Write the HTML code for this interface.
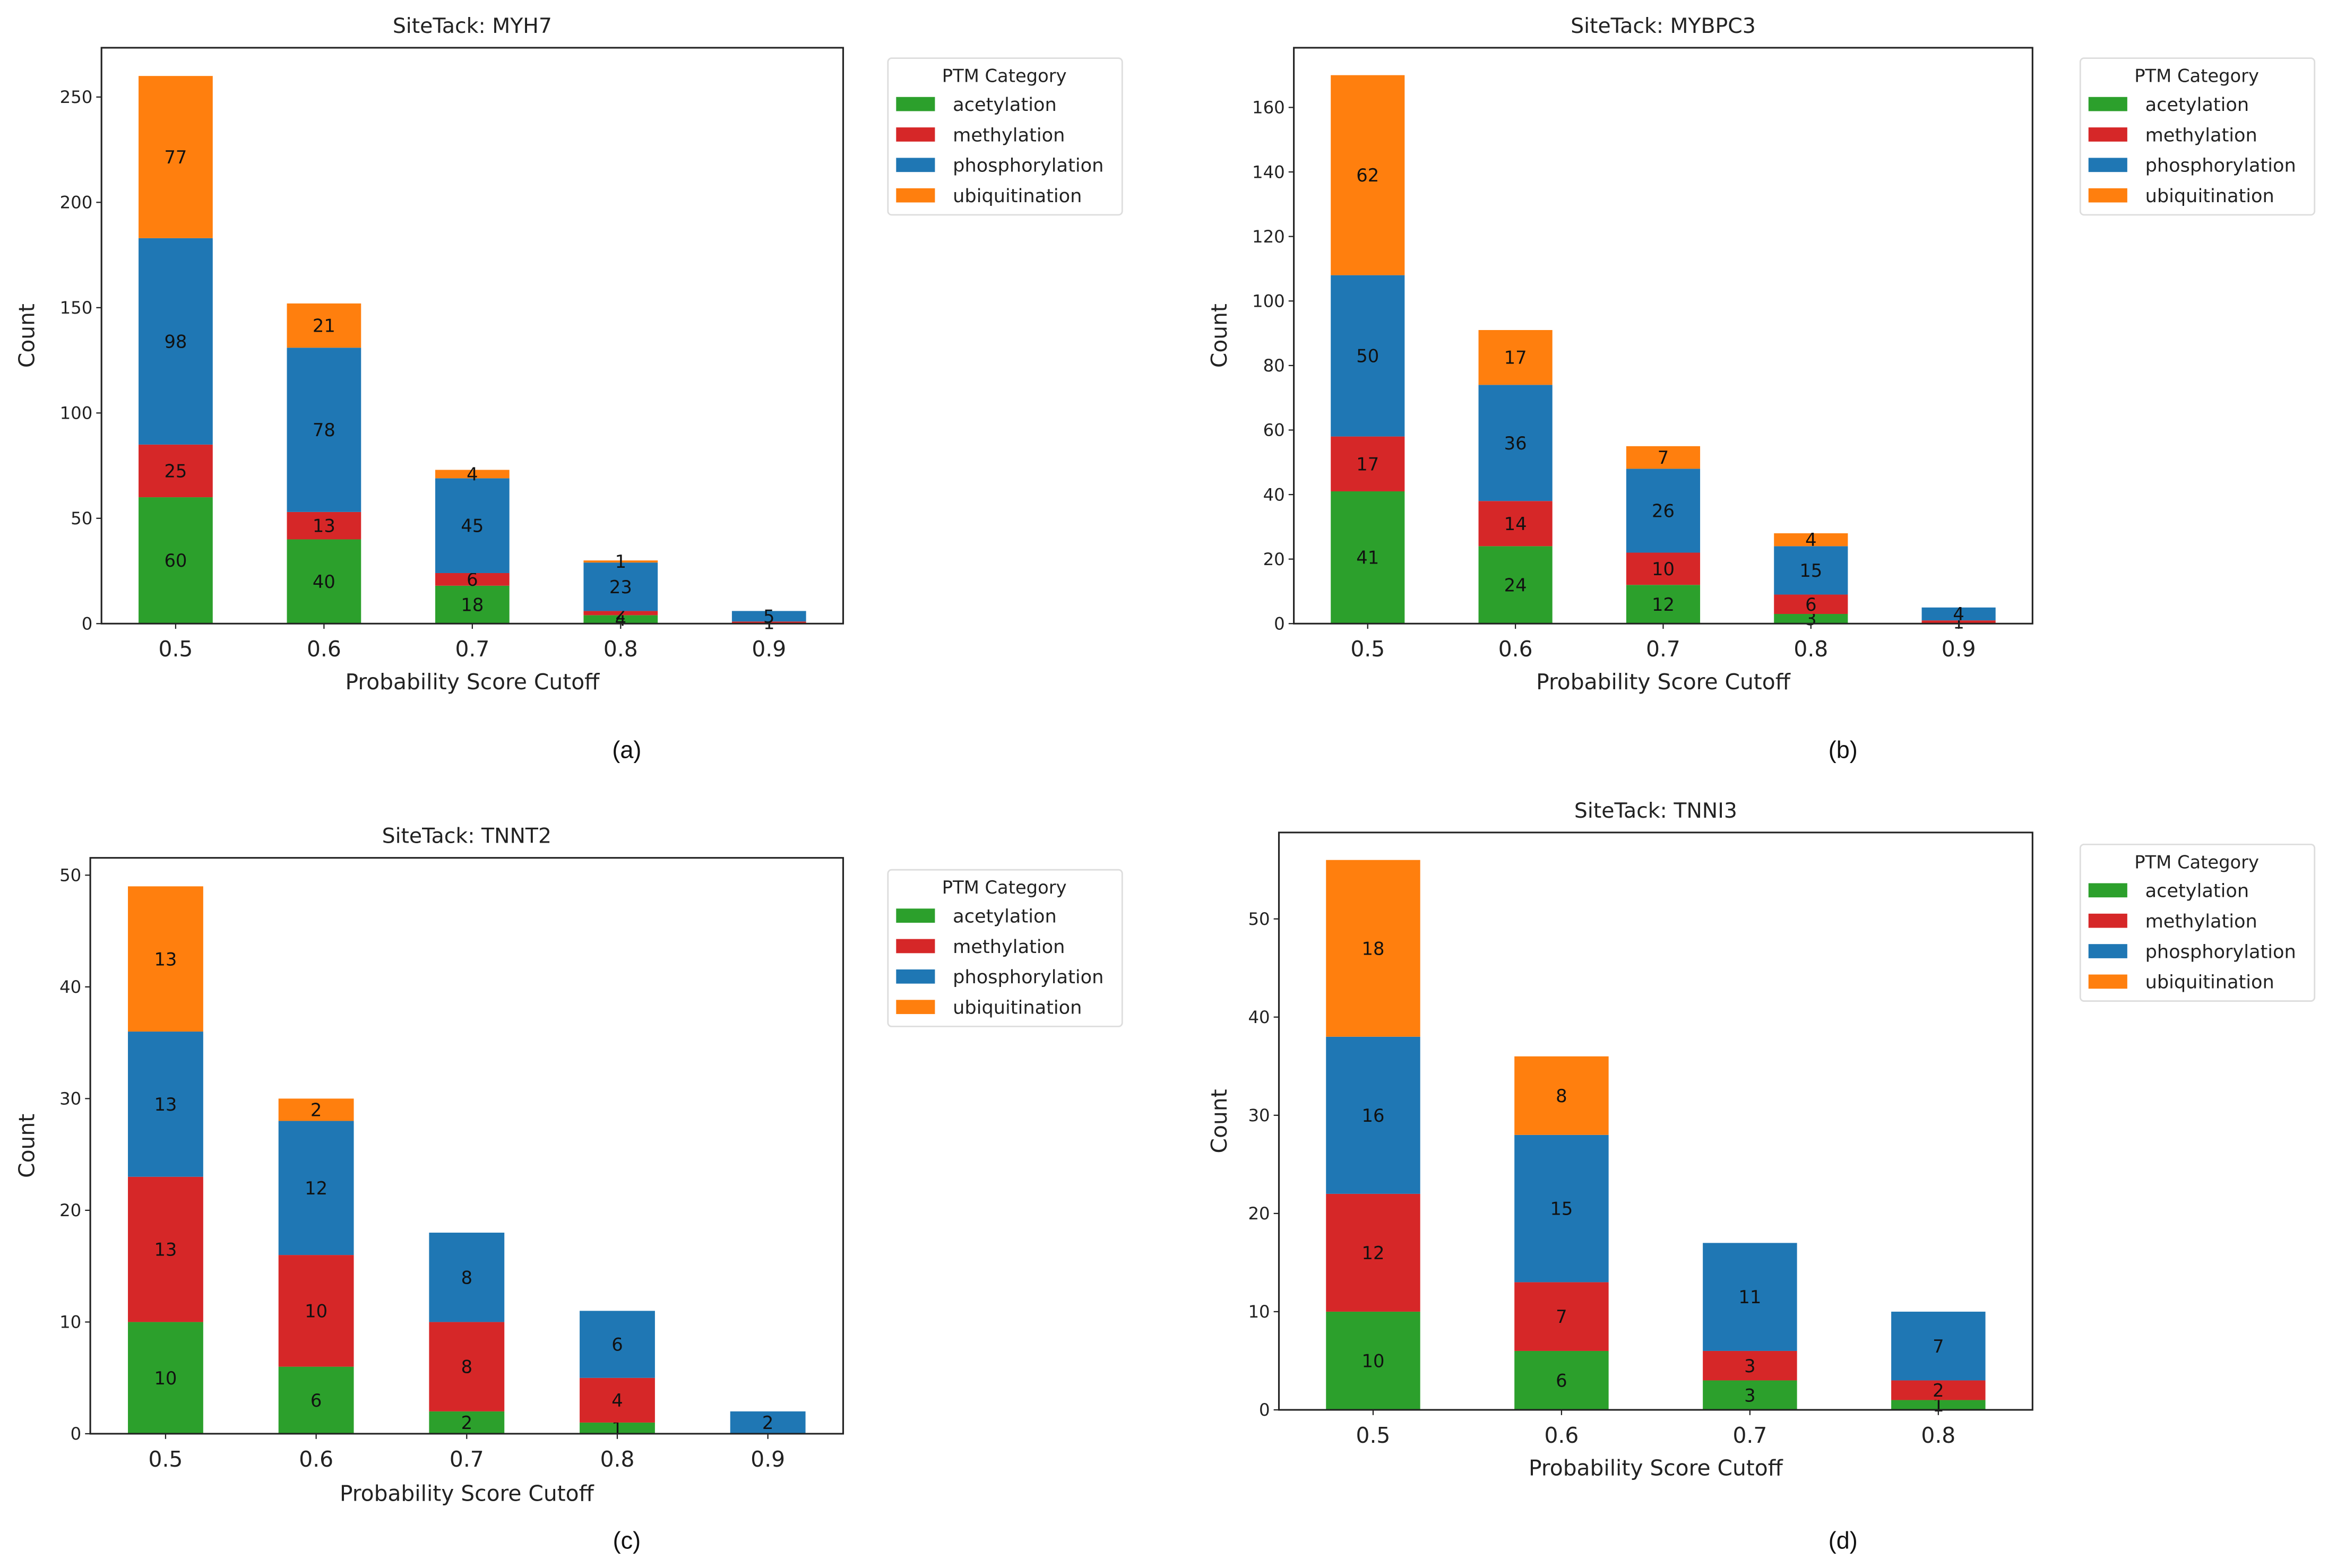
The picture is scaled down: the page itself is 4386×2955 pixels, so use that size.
<!DOCTYPE html>
<html><head><meta charset="utf-8"><style>
html,body{margin:0;padding:0;background:#fff;}
svg{display:block;font-family:"DejaVu Sans","Liberation Sans",sans-serif;}
</style></head><body>
<svg id="fig" width="4386" height="2955" viewBox="0 0 1560 1051" preserveAspectRatio="none" xmlns="http://www.w3.org/2000/svg"></svg>
<script>
const seriesNames = ['acetylation','methylation','phosphorylation','ubiquitination'];
const seriesColors = ['#2ca02c','#d62728','#1f77b4','#ff7f0e'];

const catsA = ['0.5','0.6','0.7','0.8','0.9'];
const acetA = [60,40,18,4,0];
const methA = [25,13,6,2,1];
const phosA = [98,78,45,23,5];
const ubiqA = [77,21,4,1,0];
const ticksA = [0,50,100,150,200,250];

const catsB = ['0.5','0.6','0.7','0.8','0.9'];
const acetB = [41,24,12,3,0];
const methB = [17,14,10,6,1];
const phosB = [50,36,26,15,4];
const ubiqB = [62,17,7,4,0];
const ticksB = [0,20,40,60,80,100,120,140,160];

const catsC = ['0.5','0.6','0.7','0.8','0.9'];
const acetC = [10,6,2,1,0];
const methC = [13,10,8,4,0];
const phosC = [13,12,8,6,2];
const ubiqC = [13,2,0,0,0];
const ticksC = [0,10,20,30,40,50];

const catsD = ['0.5','0.6','0.7','0.8'];
const acetD = [10,6,3,1];
const methD = [12,7,3,2];
const phosD = [16,15,11,7];
const ubiqD = [18,8,0,0];
const ticksD = [0,10,20,30,40,50];

const NS='http://www.w3.org/2000/svg';
const svg=document.getElementById('fig');
function mk(tag,attrs,parent,text){const e=document.createElementNS(NS,tag);for(const k in attrs)e.setAttribute(k,attrs[k]);if(text!==undefined)e.textContent=text;(parent||svg).appendChild(e);return e;}

function panel(cfg){
  const g=mk('g',{});
  
  
  const L=cfg.left,R=cfg.right,T=cfg.top,B=cfg.bottom;
  const n=cfg.cats.length;
  const step=(R-L)/n;
  const xc=i=>L+step*(i+0.5);
  const y=v=>B-(v/cfg.ymax)*(B-T);
  const bw=step*0.5;
  const series=[cfg.acet,cfg.meth,cfg.phos,cfg.ubiq];
  for(let i=0;i<n;i++){
    let base=0;
    for(let s=0;s<4;s++){
      const v=series[s][i];
      if(v>0){
        const r=mk('rect',{x:xc(i)-bw/2,y:y(base+v),width:bw,height:y(base)-y(base+v),fill:seriesColors[s]},g);
        
        
        const t=mk('text',{x:xc(i),y:(y(base)+y(base+v))/2+4.3,'font-size':12,'text-anchor':'middle',fill:'#111'},g,String(v));
        
        
      }
      base+=v;
    }
  }
  const fr=mk('rect',{x:L,y:T,width:R-L,height:B-T,fill:'none',stroke:'#222','stroke-width':1.1},g);
  
  
  cfg.ticks.forEach(v=>{
    mk('line',{x1:L-3.5,x2:L,y1:y(v),y2:y(v),stroke:'#222','stroke-width':0.8},g);
    const t=mk('text',{x:L-6,y:y(v)+4,'font-size':11.5,'text-anchor':'end',fill:'#222'},g,String(v));
    
    
  });
  cfg.cats.forEach((c,i)=>{
    mk('line',{x1:xc(i),x2:xc(i),y1:B,y2:B+3.5,stroke:'#222','stroke-width':0.8},g);
    const t=mk('text',{x:xc(i),y:B+22,'font-size':14.5,'text-anchor':'middle',fill:'#222'},g,c);
    
    
  });
  const ti=mk('text',{x:(L+R)/2,y:T-10,'font-size':14,'text-anchor':'middle',fill:'#222'},g,cfg.title);
  
  
  const xl=mk('text',{x:(L+R)/2,y:cfg.xlabelY,'font-size':14.5,'text-anchor':'middle',fill:'#222'},g,'Probability Score Cutoff');
  
  
  const ym=(T+B)/2;
  const yl=mk('text',{x:cfg.ylabelX,y:ym,'font-size':14.5,'text-anchor':'middle',fill:'#222',transform:'rotate(-90 '+cfg.ylabelX+' '+ym+')'},g,'Count');
  
  
  const lg=mk('g',{},g);
  
  
  const lx=cfg.legX,ly=cfg.legY;
  mk('rect',{x:lx,y:ly,width:157,height:105,rx:2.5,fill:'#fff',stroke:'#ddd','stroke-width':1},lg);
  mk('text',{x:lx+78,y:ly+16,'font-size':12,'text-anchor':'middle',fill:'#222'},lg,'PTM Category');
  seriesNames.forEach((nm,s)=>{
    const ry=ly+31+s*20.4;
    const sw=mk('rect',{x:lx+5.5,y:ry-5,width:26,height:9.5,fill:seriesColors[s]},lg);
    
    
    const t=mk('text',{x:lx+43.5,y:ry+4.3,'font-size':12.5,fill:'#222'},lg,nm);
    
    
  });
  const sub=mk('text',{x:cfg.subX,y:cfg.subY,'font-size':16,'text-anchor':'middle',fill:'#111','font-family':'Liberation Sans, sans-serif'},g,cfg.sub);
  
  
}

panel({id:'myh7',title:'SiteTack: MYH7',cats:catsA,acet:acetA,meth:methA,phos:phosA,ubiq:ubiqA,ticks:ticksA,
  left:68,right:565,top:32,bottom:418,ymax:273.4,xlabelY:462,ylabelX:23,legX:595,legY:39,sub:'(a)',subX:420,subY:508});
panel({id:'mybpc3',title:'SiteTack: MYBPC3',cats:catsB,acet:acetB,meth:methB,phos:phosB,ubiq:ubiqB,ticks:ticksB,
  left:867,right:1362,top:32,bottom:418,ymax:178.5,xlabelY:462,ylabelX:822,legX:1394,legY:39,sub:'(b)',subX:1235,subY:508});
panel({id:'tnnt2',title:'SiteTack: TNNT2',cats:catsC,acet:acetC,meth:methC,phos:phosC,ubiq:ubiqC,ticks:ticksC,
  left:60.5,right:565,top:575,bottom:961,ymax:51.55,xlabelY:1006,ylabelX:23,legX:595,legY:583,sub:'(c)',subX:420,subY:1038});
panel({id:'tnni3',title:'SiteTack: TNNI3',cats:catsD,acet:acetD,meth:methD,phos:phosD,ubiq:ubiqD,ticks:ticksD,
  left:857,right:1362,top:558,bottom:945,ymax:58.8,xlabelY:989,ylabelX:822,legX:1394,legY:566,sub:'(d)',subX:1235,subY:1038});
</script>
</body></html>
